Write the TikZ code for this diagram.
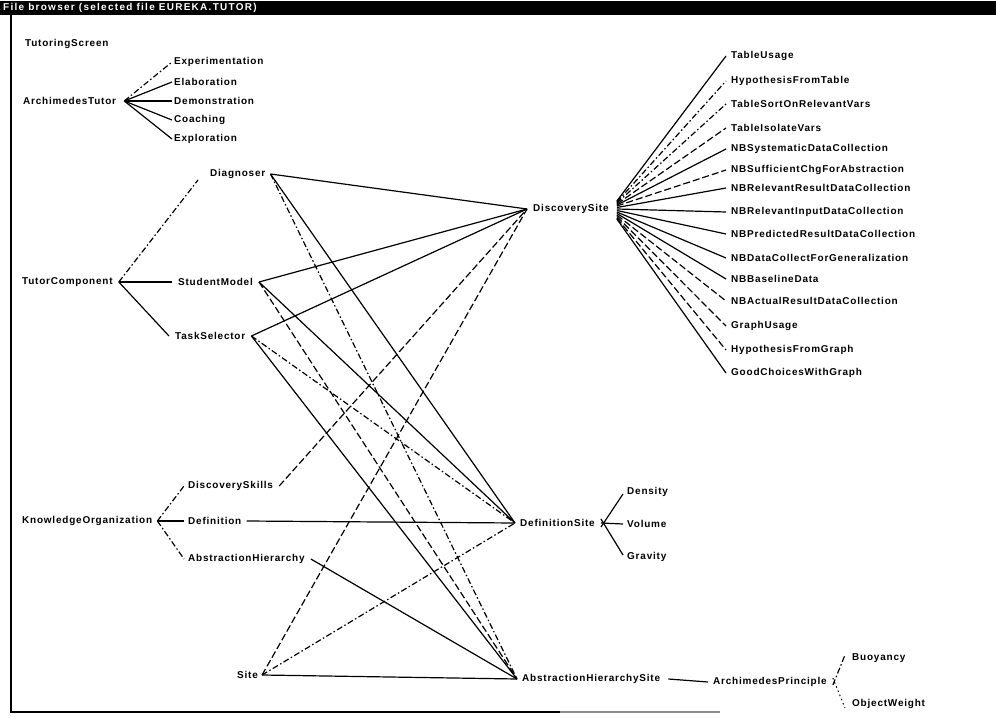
\documentclass[tikz,border=0pt]{standalone}
\usepackage{fontspec}
\setmainfont{Liberation Sans}
\begin{document}
\begin{tikzpicture}[x=1bp,y=-1bp,
  lbl/.style={anchor=west,inner sep=2bp,font=\bfseries\fontsize{10}{11}\selectfont\addfontfeature{LetterSpace=8}},
  conn/.style={line width=1.2bp},
  dconn/.style={line width=1.2bp,dash pattern=on 7bp off 3bp},
  ddconn/.style={line width=1.2bp,dash pattern=on 6bp off 2.5bp on 1.5bp off 2.5bp},
]
\useasboundingbox (0,0) rectangle (996,718);
% window frame
\fill (0,1) rectangle (996,15);
\node[anchor=west,inner sep=0pt,text=white,font=\bfseries\fontsize{10}{11}\selectfont\addfontfeature{LetterSpace=13}] (title) at (3,8) {File browser (selected file EUREKA.TUTOR)};
\draw[line width=2bp] (11,15) -- (11,712) -- (560,712);
\draw[line width=1.5bp,black!45] (560,712) -- (720,712);

% top-left tree
\node[lbl] (ts) at (23,44) {TutoringScreen};
\node[lbl] (at) at (21,101) {ArchimedesTutor};
\node[lbl] (exm) at (172,62) {Experimentation};
\node[lbl] (ela) at (172,82) {Elaboration};
\node[lbl] (dem) at (172,101) {Demonstration};
\node[lbl] (coa) at (172,120) {Coaching};
\node[lbl] (exl) at (172,139) {Exploration};
\coordinate (atR) at ([xshift=6bp]at.east);
\draw[ddconn] (atR) -- (exm.west);
\draw[conn] (atR) -- (ela.west);
\draw[conn] (atR) -- (dem.west);
\draw[conn] (atR) -- (coa.west);
\draw[conn] (atR) -- (exl.west);

% tutor component tree
\node[lbl] (tc) at (20,282) {TutorComponent};
\node[lbl] (dg) at (208,174) {Diagnoser};
\node[lbl] (sm) at (176,282) {StudentModel};
\node[lbl] (tsel) at (173,336) {TaskSelector};
\coordinate (tcR) at ([xshift=4bp]tc.east);
\draw[ddconn] (tcR) -- ([xshift=-10bp,yshift=-6bp]dg.west);
\draw[conn] (tcR) -- ([xshift=-4bp]sm.west);
\draw[conn] (tcR) -- ([xshift=-4bp]tsel.west);

% knowledge organization tree
\node[lbl] (ko) at (20,521) {KnowledgeOrganization};
\node[lbl] (dsk) at (186,486) {DiscoverySkills};
\node[lbl] (def) at (186,521) {Definition};
\node[lbl] (ah) at (186,559) {AbstractionHierarchy};
\coordinate (koR) at ([xshift=3bp]ko.east);
\draw[ddconn] (koR) -- ([xshift=-2bp]dsk.west);
\draw[conn] (koR) -- ([xshift=-2bp]def.west);
\draw[ddconn] (koR) -- ([xshift=-2bp]ah.west);

\node[lbl] (site) at (235,675) {Site};

% sites
\node[lbl] (dsite) at (531,209) {DiscoverySite};
\node[lbl] (fsite) at (518,523) {DefinitionSite};
\node[lbl] (asite) at (520,679) {AbstractionHierarchySite};
\coordinate (dsL) at ([xshift=-4bp]dsite.west);
\coordinate (fsL) at ([xshift=-3bp]fsite.west);
\coordinate (asL) at ([xshift=-3bp]asite.west);

% cross connections
\draw[conn] ([xshift=3bp]dg.east) -- (dsL);
\draw[conn] ([xshift=4bp]sm.east) -- (dsL);
\draw[conn] ([xshift=4bp]tsel.east) -- (dsL);
\draw[conn] ([xshift=3bp]dg.east) -- (fsL);
\draw[ddconn] ([xshift=3bp]dg.east) -- (asL);
\draw[conn] ([xshift=4bp]sm.east) -- (fsL);
\draw[dconn] ([xshift=4bp]sm.east) -- (asL);
\draw[ddconn] ([xshift=4bp]tsel.east) -- (fsL);
\draw[conn] ([xshift=4bp]tsel.east) -- (asL);
\draw[dconn] ([xshift=4bp]dsk.east) -- (dsL);
\draw[conn] ([xshift=3bp]def.east) -- (fsL);
\draw[conn] ([xshift=4bp]ah.east) -- (asL);
\draw[dconn] ([xshift=2bp]site.east) -- (dsL);
\draw[ddconn] ([xshift=2bp]site.east) -- (fsL);
\draw[conn] ([xshift=2bp]site.east) -- (asL);

% definition site children
\node[lbl] (den) at (625,492) {Density};
\node[lbl] (vol) at (625,524) {Volume};
\node[lbl] (gra) at (625,557) {Gravity};
\coordinate (fsR) at ([xshift=4bp]fsite.east);
\draw[conn] ([yshift=-4bp]fsR) -- ([xshift=-2bp,yshift=-2bp]den.west);
\draw[conn] (fsR) -- ([xshift=-2bp]vol.west);
\draw[conn] ([yshift=4bp]fsR) -- ([xshift=-2bp,yshift=2bp]gra.west);

% abstraction hierarchy site children
\node[lbl] (ap) at (711,682) {ArchimedesPrinciple};
\node[lbl] (buo) at (850,658) {Buoyancy};
\node[lbl] (ow) at (850,704) {ObjectWeight};
\draw[conn] ([xshift=6bp]asite.east) -- ([xshift=-3bp]ap.west);
\draw[ddconn] ([xshift=4bp,yshift=-3bp]ap.east) -- ([xshift=-5bp,yshift=3bp]buo.west);
\draw[line width=1bp,dash pattern=on 1.5bp off 3bp] ([xshift=4bp,yshift=4bp]ap.east) -- ([xshift=-5bp,yshift=-4bp]ow.west);

% discovery site children
\foreach \nm/\yy/\txt/\sty/\off in {
  c1/56/TableUsage/conn/-8,
  c2/81/HypothesisFromTable/ddconn/-7,
  c3/104/TableSortOnRelevantVars/ddconn/-6,
  c4/128/TableIsolateVars/dconn/-5,
  c5/149/NBSystematicDataCollection/conn/-4,
  c6/170/NBSufficientChgForAbstraction/dconn/-3,
  c7/188/NBRelevantResultDataCollection/conn/-1.5,
  c8/212/NBRelevantInputDataCollection/conn/0,
  c9/234/NBPredictedResultDataCollection/conn/1.5,
  c10/258/NBDataCollectForGeneralization/conn/3,
  c11/279/NBBaselineData/conn/4.5,
  c12/301/NBActualResultDataCollection/dconn/6,
  c13/326/GraphUsage/dconn/7.5,
  c14/350/HypothesisFromGraph/dconn/9,
  c15/373/GoodChoicesWithGraph/conn/10}{
  \node[lbl] (\nm) at (729,\yy) {\txt};
  \draw[\sty] ([xshift=6bp,yshift=-\off bp]dsite.east) -- ([xshift=-3bp]\nm.west);
}
\end{tikzpicture}
\end{document}
